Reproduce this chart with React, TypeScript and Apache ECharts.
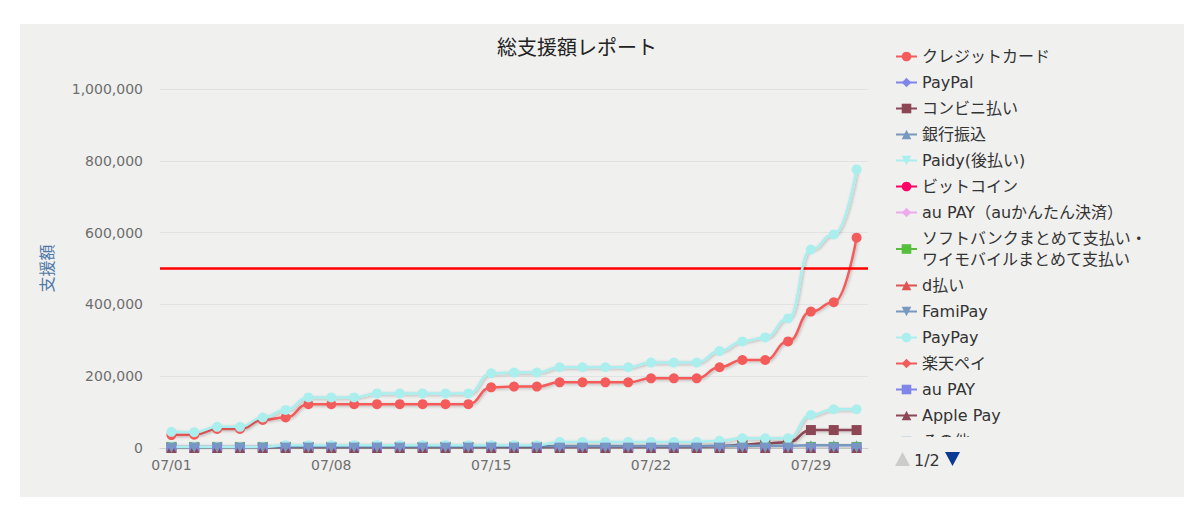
import React, { useEffect, useRef } from 'react';
import * as echarts from 'echarts';

const days = [
  '07/01', '07/02', '07/03', '07/04', '07/05', '07/06', '07/07', '07/08', '07/09', '07/10',
  '07/11', '07/12', '07/13', '07/14', '07/15', '07/16', '07/17', '07/18', '07/19', '07/20',
  '07/21', '07/22', '07/23', '07/24', '07/25', '07/26', '07/27', '07/28', '07/29', '07/30', '07/31',
];

const creditCard = [
  36000, 37000, 53000, 53000, 78000, 85000, 122000, 122000, 122000, 122000,
  122000, 122000, 122000, 122000, 169000, 171000, 171000, 183000, 183000, 183000,
  183000, 194000, 194000, 194000, 225000, 245000, 245000, 297000, 380000, 406000, 586000,
];
const paypal = [
  0, 0, 0, 0, 0, 0, 0, 0, 0, 0, 0, 0, 0, 0, 0, 0, 0, 0, 0, 0,
  0, 0, 0, 0, 0, 0, 0, 0, 0, 0, 0,
];
const konbini = [
  2000, 2000, 2000, 2000, 2000, 3000, 3000, 3000, 3000, 3000, 3000, 3000, 3000, 3000, 3000,
  3000, 3000, 3000, 3000, 3000, 3000, 3000, 3000, 3000, 5000, 9000, 13000, 16000, 50000, 50000, 50000,
];
const bank = [
  3000, 3000, 3000, 3000, 3000, 4000, 4000, 4000, 4000, 4000, 4000, 4000, 4000, 4000, 5000,
  5000, 5000, 5000, 5000, 5000, 5000, 5000, 5000, 5000, 6000, 6000, 6000, 6000, 8000, 8000, 8000,
];
const paidy = [
  0, 0, 0, 0, 0, 0, 0, 0, 0, 0, 0, 0, 0, 0, 0, 0, 0, 0, 0, 0,
  0, 0, 0, 0, 0, 0, 0, 0, 0, 0, 0,
];
const bitcoin = [
  0, 0, 0, 0, 0, 0, 0, 0, 0, 0, 0, 0, 0, 0, 0, 0, 0, 0, 0, 0,
  0, 0, 0, 0, 0, 0, 0, 0, 0, 0, 0,
];
const auKantan = [
  0, 0, 0, 0, 0, 0, 0, 0, 0, 0, 0, 0, 0, 0, 0, 0, 0, 0, 0, 0,
  0, 0, 0, 0, 0, 0, 0, 0, 0, 0, 0,
];
const softbank = [
  3000, 3000, 3000, 3000, 3000, 3000, 3000, 3000, 3000, 3000, 3000, 3000, 3000, 3000, 3000,
  3000, 3000, 3000, 3000, 3000, 3000, 3000, 3000, 3000, 3000, 3000, 3000, 3000, 3000, 3000, 3000,
];
const dBarai = [
  0, 0, 0, 0, 0, 0, 0, 0, 0, 0, 0, 0, 0, 0, 0, 0, 0, 0, 0, 0,
  0, 0, 0, 0, 0, 0, 0, 0, 0, 0, 0,
];
const famipay = [
  0, 0, 0, 0, 0, 0, 0, 0, 0, 0, 0, 0, 0, 0, 0, 0, 0, 0, 0, 0,
  0, 0, 0, 0, 0, 0, 0, 0, 0, 0, 0,
];
const paypay = [
  3000, 3000, 3000, 3000, 3000, 8000, 8000, 8000, 8000, 8000, 8000, 8000, 8000, 8000, 8000,
  8000, 8000, 17000, 17000, 17000, 17000, 17000, 17000, 17000, 20000, 27000, 27000, 27000, 92000, 108000, 108000,
];
const rakuten = [
  0, 0, 0, 0, 0, 0, 0, 0, 0, 0, 0, 0, 0, 0, 0, 0, 0, 0, 0, 0,
  0, 0, 0, 0, 0, 0, 0, 0, 0, 0, 0,
];
const auPay = [
  1000, 1000, 1000, 1000, 1000, 1000, 1000, 1000, 1000, 1000, 1000, 1000, 1000, 1000, 1000,
  1000, 1000, 1000, 1000, 1000, 1000, 1000, 1000, 1000, 1000, 1000, 1000, 1000, 1000, 1000, 1000,
];
const applePay = [
  0, 0, 0, 0, 0, 0, 0, 0, 0, 0, 0, 0, 0, 0, 0, 0, 0, 0, 0, 0,
  0, 0, 0, 0, 0, 0, 0, 0, 0, 0, 0,
];
const others = [
  0, 0, 0, 0, 0, 0, 0, 0, 0, 0, 0, 0, 0, 0, 0, 0, 0, 0, 0, 0,
  0, 0, 0, 0, 0, 0, 0, 0, 0, 0, 0,
];
const total = [
  45000, 44000, 59000, 59000, 85000, 106000, 141000, 141000, 141000, 152000,
  152000, 152000, 152000, 152000, 208000, 210000, 210000, 225000, 225000, 225000,
  225000, 238000, 238000, 238000, 270000, 297000, 308000, 361000, 553000, 595000, 776000,
];

const yTicks = [0, 200000, 400000, 600000, 800000, 1000000];
const targetLine = 500000;

const seriesNames = [
  'クレジットカード', 'PayPal', 'コンビニ払い', '銀行振込', 'Paidy(後払い)', 'ビットコイン',
  'au PAY（auかんたん決済）', 'ソフトバンクまとめて支払い・\nワイモバイルまとめて支払い', 'd払い',
  'FamiPay', 'PayPay', '楽天ペイ', 'au PAY', 'Apple Pay', 'その他', '合計',
];
const seriesData = [
  creditCard, paypal, konbini, bank, paidy, bitcoin, auKantan, softbank, dBarai,
  famipay, paypay, rakuten, auPay, applePay, others, total,
];

const palette = [
  '#f45b5b', '#8085e9', '#8d4654', '#7798BF', '#aaeeee', '#ff0066',
  '#eeaaee', '#55BF3B', '#DF5353', '#7798BF', '#aaeeee',
];
const symbols = ['circle', 'diamond', 'rect', 'triangle', 'path://M0,0L10,0L5,10Z'];

const FONT = "'DejaVu Sans', 'Noto Sans CJK JP', sans-serif";

const App: React.FC = () => {
  const chartRef = useRef<HTMLDivElement | null>(null);

  useEffect(() => {
    const chart = echarts.init(chartRef.current!, null, { renderer: 'svg' });

    const series: any[] = seriesNames.map((name, i) => ({
      name,
      type: 'line',
      data: seriesData[i],
      smooth: true,
      smoothMonotone: 'x',
      symbol: symbols[i % symbols.length],
      symbolSize: 10,
      showAllSymbol: true,
      color: palette[i % palette.length],
      lineStyle: {
        width: 2.5,
        shadowColor: 'rgba(0,0,0,0.25)',
        shadowBlur: 3,
        shadowOffsetX: 1,
        shadowOffsetY: 1,
      },
      z: 2 + i,
    }));

    series[0].markLine = {
      silent: true,
      symbol: ['none', 'none'],
      label: { show: false },
      lineStyle: { color: '#ff0000', width: 2.5, type: 'solid' },
      data: [{ yAxis: targetLine }],
    };

    const option: echarts.EChartsOption = {
      animation: false,
      backgroundColor: '#f0f0ef',
      textStyle: { fontFamily: FONT },
      title: {
        text: '総支援額レポート',
        left: 472,
        top: 9,
        textStyle: { fontSize: 20, fontWeight: 'normal', color: '#222', fontFamily: FONT },
      },
      legend: {
        type: 'scroll',
        orient: 'vertical',
        left: 870,
        top: 17,
        height: 415,
        itemWidth: 21,
        itemHeight: 12,
        itemGap: 5,
        textStyle: { fontSize: 16, color: '#333', lineHeight: 21, fontFamily: FONT },
        // the pager is drawn below with graphic elements, left-aligned as in the original
        pageIconColor: 'rgba(0,0,0,0)',
        pageIconInactiveColor: 'rgba(0,0,0,0)',
        pageIconSize: 15,
        pageButtonGap: 8,
        pageFormatter: ' ',
        pageTextStyle: { fontSize: 16, color: 'rgba(0,0,0,0)' },
        data: seriesNames,
      },
      graphic: [
        {
          type: 'polygon',
          shape: { points: [[875, 442], [890, 442], [882.5, 428]] },
          style: { fill: '#cccccc' },
        },
        {
          type: 'text',
          x: 894,
          y: 436.5,
          style: {
            text: '1/2',
            fill: '#333',
            fontSize: 16,
            fontFamily: FONT,
            verticalAlign: 'middle',
          },
        },
        {
          type: 'polygon',
          shape: { points: [[925, 428], [940, 428], [932.5, 442]] },
          style: { fill: '#0b3a94' },
        },
      ],
      grid: {
        left: 140,
        right: 316,
        top: 65,
        bottom: 49,
      },
      xAxis: {
        type: 'category',
        data: days,
        boundaryGap: true,
        axisLine: { lineStyle: { color: '#d0d0d0' } },
        axisTick: { alignWithLabel: true, interval: 6, length: 6, lineStyle: { color: '#d0d0d0' } },
        axisLabel: { interval: 6, color: '#6e6e6e', fontSize: 14, margin: 10 },
      },
      yAxis: {
        type: 'value',
        min: yTicks[0],
        max: yTicks[yTicks.length - 1],
        interval: yTicks[1] - yTicks[0],
        name: '支援額',
        nameLocation: 'middle',
        nameGap: 105,
        nameTextStyle: { color: '#4f79a8', fontSize: 16 },
        axisLine: { show: false },
        axisTick: { show: false },
        axisLabel: {
          color: '#6e6e6e',
          fontSize: 14,
          margin: 17,
          formatter: (v: number) => v.toLocaleString('en-US'),
        },
        splitLine: { lineStyle: { color: '#e2e2e2' } },
      },
      series,
    };

    chart.setOption(option);

    return () => {
      chart.dispose();
    };
  }, []);

  return (
    <div
      ref={chartRef}
      style={{ position: 'absolute', left: 20, top: 24, width: 1164, height: 473 }}
    />
  );
};

export default App;
